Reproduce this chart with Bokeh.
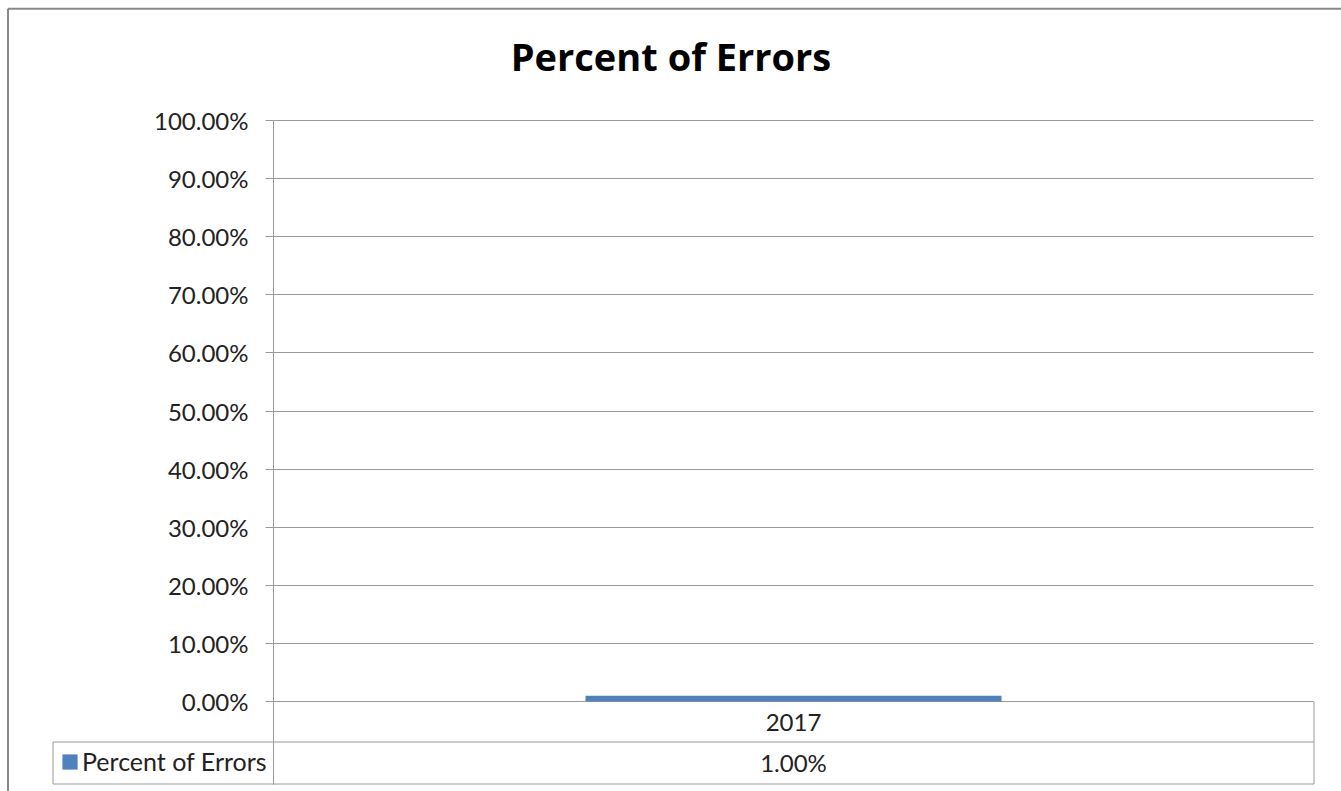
from bokeh.plotting import figure
from bokeh.models import (Range1d, FixedTicker, Legend, LegendItem, ColumnDataSource)
from bokeh.core.properties import value
from bokeh.embed import file_html
from bokeh.resources import INLINE

# ---- data ----
title_text = "Percent of Errors"
series_name = "Percent of Errors"
categories = ["2017"]
percent_errors = [0.01]
y_ticks = [0.0, 0.1, 0.2, 0.3, 0.4, 0.5, 0.6, 0.7, 0.8, 0.9, 1.0]
y_tick_labels = ["0.00%", "10.00%", "20.00%", "30.00%", "40.00%", "50.00%",
                 "60.00%", "70.00%", "80.00%", "90.00%", "100.00%"]
table_values = [f"{v:.2%}" for v in percent_errors]
cat_pos = list(range(len(categories)))

# ---- layout geometry (canvas pixels) ----
W, H = 1341, 791
PLOT_L, PLOT_R = 273, 1313          # plot area left / right
PLOT_T, ZERO_PX = 120, 701          # 100% line / 0% line
ROW1_B, ROW2_B = 742, 784           # data-table row bottoms
KEY_L = 52                          # legend-key cell left
BORDER_L, BORDER_T = 7.5, 8.3       # outer chart border
TITLE_BASE = 55

UX = (PLOT_R - PLOT_L) / len(categories)
UY = ZERO_PX - PLOT_T
X0 = -0.5 - PLOT_L / UX
X1 = len(categories) - 0.5 + (W - PLOT_R) / UX
Y1 = 1.0 + PLOT_T / UY
Y0 = -(H - ZERO_PX) / UY


def dx(px):
    return X0 + px / UX


def dy(py):
    return Y1 - py / UY


GRID = "#989898"
TEXT = "#222222"
BAR = "#4F81BD"
FONT = "Lato"

p = figure(width=W, height=H, x_range=Range1d(X0, X1), y_range=Range1d(Y0, Y1),
           x_axis_location=None, output_backend="svg", toolbar_location=None,
           min_border=0, min_border_left=0, min_border_right=0,
           min_border_top=0, min_border_bottom=0)
p.outline_line_color = None
p.background_fill_color = "white"
p.border_fill_color = "white"

# y axis at the left edge of the plot area
ticker = FixedTicker(ticks=y_ticks)
yax = p.yaxis[0]
yax.fixed_location = -0.5
yax.ticker = ticker
yax.bounds = (dy(ROW2_B), 1.0)
yax.major_label_overrides = dict(zip(y_ticks, y_tick_labels))
yax.major_label_text_font = FONT
yax.major_label_text_font_size = "24px"
yax.major_label_text_color = TEXT
yax.major_label_standoff = 17
yax.axis_line_color = GRID
yax.major_tick_line_color = GRID
yax.major_tick_out = 8
yax.major_tick_in = 0
yax.minor_tick_line_color = None

p.xgrid.visible = False
grid = p.ygrid[0]
grid.ticker = ticker
grid.grid_line_color = GRID
try:
    grid.cross_bounds = (-0.5, len(categories) - 0.5)
except AttributeError:
    grid.visible = False
    p.segment(x0=[-0.5] * len(y_ticks), x1=[len(categories) - 0.5] * len(y_ticks),
              y0=y_ticks, y1=y_ticks, line_color=GRID, line_width=1)

# title
p.text(x=[(X0 + X1) / 2], y=[dy(TITLE_BASE)], text=[title_text],
       text_align="center", text_baseline="alphabetic",
       text_font=value("Open Sans"), text_font_style="bold",
       text_font_size="38px", text_color="#000000")

# bars
src = ColumnDataSource(dict(x=cat_pos, top=percent_errors))
bars = p.vbar(x="x", top="top", bottom=0, width=0.4, source=src,
              fill_color=BAR, line_color=None)

# data table under the plot area
tbl = ColumnDataSource(dict(x=cat_pos, cat=categories, val=table_values,
                            y1=[(0 + dy(ROW1_B)) / 2] * len(categories),
                            y2=[(dy(ROW1_B) + dy(ROW2_B)) / 2 + 1.5 / UY] * len(categories)))
p.text(x="x", y="y1", text="cat", source=tbl, text_align="center",
       text_baseline="middle", text_font=value(FONT),
       text_font_size="24px", text_color=TEXT)
p.text(x="x", y="y2", text="val", source=tbl, text_align="center",
       text_baseline="middle", text_font=value(FONT),
       text_font_size="24px", text_color=TEXT)

xr = len(categories) - 0.5
xl = dx(KEY_L + 0.5)
p.segment(x0=[xl, xl, xr + 0.5 / UX, xl],
          x1=[xr + 0.5 / UX, xr + 0.5 / UX, xr + 0.5 / UX, xl],
          y0=[dy(ROW1_B - 0.5), dy(ROW2_B - 0.5), 0, dy(ROW1_B - 0.5)],
          y1=[dy(ROW1_B - 0.5), dy(ROW2_B - 0.5), dy(ROW2_B - 0.5), dy(ROW2_B - 0.5)],
          line_color=GRID, line_width=1)

# legend key inside the first table cell
legend = Legend(items=[LegendItem(label=series_name, renderers=[bars])],
                location=(KEY_L + 8, H - ROW2_B + 8), orientation="vertical",
                border_line_color=None, background_fill_alpha=0,
                label_text_font=FONT, label_text_font_size="25px",
                label_text_color=TEXT, padding=9, spacing=0, margin=0,
                glyph_width=19, glyph_height=19, label_standoff=3,
                label_height=20)
p.add_layout(legend)

# outer chart border (left and top edges)
p.segment(x0=[dx(BORDER_L), dx(BORDER_L)], x1=[dx(BORDER_L), X1],
          y0=[dy(BORDER_T), dy(BORDER_T)], y1=[Y0, dy(BORDER_T)],
          line_color="#878787", line_width=2)

open("out.html", "w").write(file_html(p, INLINE))
